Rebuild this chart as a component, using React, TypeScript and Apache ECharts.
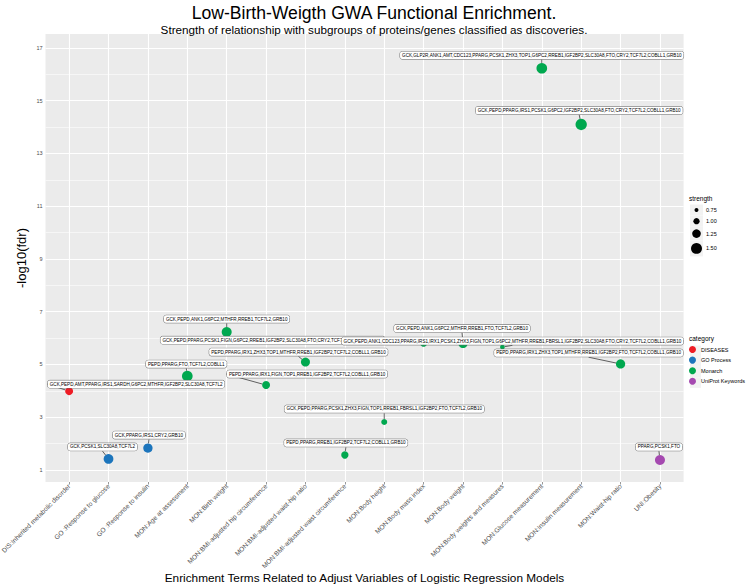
import React, { useEffect, useRef } from 'react';
import * as echarts from 'echarts';

const terms = [
  'DIS:Inherited metabolic disorder',
  'GO :Response to glucose',
  'GO :Response to insulin',
  'MON:Age at assessment',
  'MON:Birth weight',
  'MON:BMI-adjusted hip circumference',
  'MON:BMI-adjusted waist-hip ratio',
  'MON:BMI-adjusted waist circumference',
  'MON:Body height',
  'MON:Body mass index',
  'MON:Body weight',
  'MON:Body weights and measures',
  'MON:Glucose measurement',
  'MON:Insulin measurement',
  'MON:Waist-hip ratio',
  'UNI:Obesity',
];
const categories = ['DISEASES', 'GO Process', 'Monarch', 'UniProt Keywords'];
const termCategory = [0, 1, 1, 2, 2, 2, 2, 2, 2, 2, 2, 2, 2, 2, 2, 3];
const fdrScore = [3.99, 1.42, 1.83, 4.56, 6.23, 4.22, 5.09, 1.57, 2.82, 5.81, 5.8, 5.66, 16.23, 14.1, 5.02, 1.38];
const strength = [1.18, 1.37, 1.32, 1.47, 1.4, 1.18, 1.29, 1.11, 0.97, 1.11, 1.32, 0.83, 1.47, 1.54, 1.32, 1.4];
const geneSets = [
  'GCK,PEPD,AMT,PPARG,IRS1,SARDH,G6PC2,MTHFR,IGF2BP2,SLC30A8,TCF7L2',
  'GCK,PCSK1,SLC30A8,TCF7L2',
  'GCK,PPARG,IRS1,CRY2,GRB10',
  'PEPD,PPARG,FTO,TCF7L2,COBLL1',
  'GCK,PEPD,ANK1,G6PC2,MTHFR,RREB1,TCF7L2,GRB10',
  'PEPD,PPARG,IRX1,FIGN,TOP1,RREB1,IGF2BP2,TCF7L2,COBLL1,GRB10',
  'PEPD,PPARG,IRX1,ZHX3,TOP1,MTHFR,RREB1,IGF2BP2,TCF7L2,COBLL1,GRB10',
  'PEPD,PPARG,RREB1,IGF2BP2,TCF7L2,COBLL1,GRB10',
  'GCK,PEPD,PPARG,PCSK1,ZHX3,FIGN,TOP1,RREB1,FBRSL1,IGF2BP2,FTO,TCF7L2,GRB10',
  'GCK,PEPD,PPARG,PCSK1,FIGN,G6PC2,RREB1,IGF2BP2,SLC30A8,FTO,CRY2,TCF7L2,COBLL1,GRB10',
  'GCK,PEPD,ANK1,G6PC2,MTHFR,RREB1,FTO,TCF7L2,GRB10',
  'GCK,PEPD,ANK1,CDC123,PPARG,IRS1,IRX1,PCSK1,ZHX3,FIGN,TOP1,G6PC2,MTHFR,RREB1,FBRSL1,IGF2BP2,SLC30A8,FTO,CRY2,TCF7L2,COBLL1,GRB10',
  'GCK,GLP2R,ANK1,AMT,CDC123,PPARG,PCSK1,ZHX3,TOP1,G6PC2,RREB1,IGF2BP2,SLC30A8,FTO,CRY2,TCF7L2,COBLL1,GRB10',
  'GCK,PEPD,PPARG,IRS1,PCSK1,G6PC2,IGF2BP2,SLC30A8,FTO,CRY2,TCF7L2,COBLL1,GRB10',
  'PEPD,PPARG,IRX1,ZHX3,TOP1,MTHFR,RREB1,IGF2BP2,FTO,TCF7L2,COBLL1,GRB10',
  'PPARG,PCSK1,FTO',
];
const yTicks = [1, 3, 5, 7, 9, 11, 13, 15, 17];
const yMinor = [2, 4, 6, 8, 10, 12, 14, 16];
const strengthBreaks = [0.75, 1.0, 1.25, 1.5];

// layout of the repelled labels (pixel shift from the point)
const labelShift = [
  [67, -7], [-6, -12], [1, -13], [-1, -12], [0, -13], [41, -11], [-7, -10], [1, -12],
  [0, -13], [-151, -3], [-1, -15], [10, -6], [0, -13], [-2, -14], [-32, -11], [-1, -13],
];

const colors = ['#EE1C25', '#1C75BC', '#00A84F', '#A549B0'];
const FONT = "'Liberation Sans', Arial, sans-serif";

const diam = (s: number) => 9.3 * s - 3;

export default function App() {
  const ref = useRef<HTMLDivElement>(null);
  useEffect(() => {
    const chart = echarts.init(ref.current!, null, { renderer: 'svg' });
    const seriesTerms: number[][] = categories.map((_, c) =>
      terms.map((_, i) => i).filter((i) => termCategory[i] === c)
    );
    const pointSeries = categories.map((cat, c) => ({
      type: 'scatter',
      name: cat,
      z: 6,
      itemStyle: { color: colors[c], opacity: 1 },
      symbol: 'circle',
      symbolSize: (v: number[]) => diam(v[2]),
      data: seriesTerms[c].map((i) => ({ value: [i, fdrScore[i], strength[i]] })),
      label: {
        show: true,
        position: 'inside',
        formatter: (p: any) => geneSets[p.value[0]],
        fontSize: 4.6,
        fontFamily: FONT,
        color: '#000',
        backgroundColor: '#fff',
        borderColor: '#666',
        borderWidth: 0.5,
        borderRadius: 2,
        padding: [1.5, 2, 1, 2],
      },
      labelLine: { show: true, lineStyle: { color: '#000', width: 0.6 } },
      labelLayout: (p: any) => {
        const i = seriesTerms[p.seriesIndex][p.dataIndex];
        return { dx: labelShift[i][0], dy: labelShift[i][1], hideOverlap: false };
      },
    }));

    const gridSeries = {
      type: 'scatter',
      name: 'grid',
      z: 1,
      silent: true,
      data: [],
      markLine: {
        silent: true,
        z: 1,
        symbol: 'none',
        label: { show: false },
        animation: false,
        data: [
          ...yMinor.map((v) => ({ yAxis: v, lineStyle: { color: '#fff', width: 0.55, type: 'solid' } })),
          ...yTicks.map((v) => ({ yAxis: v, lineStyle: { color: '#fff', width: 1.1, type: 'solid' } })),
          ...terms.map((_, i) => ({ xAxis: i, lineStyle: { color: '#fff', width: 1.1, type: 'solid' } })),
        ],
      },
    };

    const graphics: any[] = [
      { type: 'text', left: 689, top: 195, style: { text: 'strength', fontSize: 6.5, fontFamily: FONT, fill: '#000' } },
      { type: 'text', left: 689, top: 335, style: { text: 'category', fontSize: 6.5, fontFamily: FONT, fill: '#000' } },
      {
        type: 'text', x: 364.5, y: 578,
        style: {
          text: 'Enrichment Terms Related to Adjust Variables of Logistic Regression Models',
          fontSize: 11.8, fontFamily: FONT, fill: '#000', align: 'center', verticalAlign: 'middle',
        },
      },
    ];
    let yy = 204.5;
    strengthBreaks.forEach((s) => {
      const d = diam(s);
      const h = Math.max(11, d + 5);
      graphics.push({ type: 'rect', shape: { x: 690, y: yy, width: 13, height: h }, style: { fill: '#F2F2F2' } });
      graphics.push({ type: 'circle', shape: { cx: 696.5, cy: yy + h / 2, r: d / 2 }, style: { fill: '#000' } });
      graphics.push({ type: 'text', x: 706, y: yy + h / 2, style: { text: s.toFixed(2), fontSize: 5.5, fontFamily: FONT, fill: '#000', verticalAlign: 'middle' } });
      yy += h;
    });
    categories.forEach((_, c) => {
      graphics.push({ type: 'rect', z: -1, shape: { x: 690, y: 345.5 + c * 10.6, width: 11, height: 10.6 }, style: { fill: '#F2F2F2' } });
    });

    const option: any = {
      animation: false,
      backgroundColor: '#fff',
      title: {
        text: 'Low-Birth-Weigth GWA Functional Enrichment.',
        subtext: 'Strength of relationship with subgroups of proteins/genes classified as discoveries.',
        left: 'center',
        top: 4,
        padding: 0,
        itemGap: 1,
        textStyle: { fontSize: 17.6, fontWeight: 'normal', color: '#000', fontFamily: FONT },
        subtextStyle: { fontSize: 11.7, color: '#000', fontFamily: FONT },
      },
      grid: {
        left: 45.5,
        right: 64.4,
        top: 34,
        bottom: 106,
        show: true,
        containLabel: false,
        outerBoundsMode: 'none',
        backgroundColor: '#EBEBEB',
        borderWidth: 0,
      },
      legend: {
        data: categories,
        orient: 'vertical',
        left: 689,
        top: 346,
        padding: 0,
        icon: 'circle',
        itemWidth: 7,
        itemHeight: 7,
        itemGap: 3.6,
        textStyle: { fontSize: 5.5, color: '#000', fontFamily: FONT },
      },
      xAxis: {
        type: 'value',
        min: -0.6,
        max: terms.length - 1 + 0.6,
        axisLine: { show: false },
        splitLine: { show: false },
        axisTick: { show: true, customValues: terms.map((_, i) => i), length: 2.5, lineStyle: { color: '#333', width: 0.5 } },
        axisLabel: {
          customValues: terms.map((_, i) => i),
          formatter: (v: number) => terms[Math.round(v)],
          rotate: 45,
          fontSize: 6.6,
          color: '#4D4D4D',
          margin: 3,
          fontFamily: FONT,
        },
      },
      yAxis: {
        type: 'value',
        min: 0.545,
        max: 17.53,
        name: '-log10(fdr)',
        nameLocation: 'middle',
        nameGap: 18,
        nameRotate: 90,
        nameMoveOverlap: false,
        nameTextStyle: { fontSize: 13, color: '#000', fontFamily: FONT },
        axisLine: { show: false },
        splitLine: { show: false },
        axisTick: { show: true, customValues: yTicks, length: 2.5, lineStyle: { color: '#333', width: 0.5 } },
        axisLabel: { customValues: yTicks, fontSize: 5.5, color: '#4D4D4D', margin: 3, fontFamily: FONT },
      },
      graphic: graphics,
      series: [...pointSeries, gridSeries],
    };
    chart.setOption(option);
    return () => chart.dispose();
  }, []);
  return <div ref={ref} style={{ width: 748, height: 588, position: 'fixed', left: 0, top: 0 }} />;
}
